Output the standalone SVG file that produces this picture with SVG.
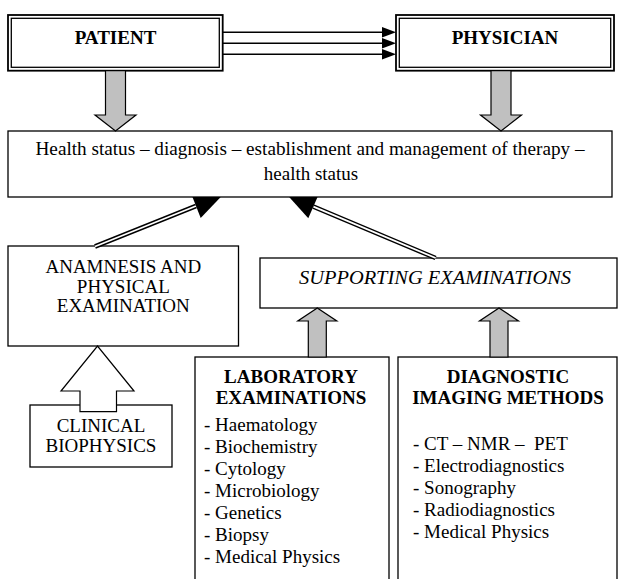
<svg xmlns="http://www.w3.org/2000/svg" width="621" height="579" viewBox="0 0 621 579">
<defs>
<style>
text{font-family:"Liberation Serif","Times New Roman",serif;font-size:19px;fill:#000}
.b{font-weight:bold}
.c{text-anchor:middle}
.i{font-style:italic}
.box{fill:#fff;stroke:#000;stroke-width:1.3}
.outer{fill:#fff;stroke:#000;stroke-width:1.8}
.inner{fill:none;stroke:#000;stroke-width:1.3}
.gray{fill:#c0c0c0;stroke:#000;stroke-width:1.2}
.hollow{fill:#fff;stroke:#000;stroke-width:1.2}
.ln{stroke:#000;stroke-width:1.4;fill:none}
.dblo{stroke:#000;stroke-width:4.6;fill:none}
.dbli{stroke:#fff;stroke-width:1.8;fill:none}
.head{fill:#000}
</style>
<clipPath id="below">
<rect x="0" y="197" width="621" height="382"/>
</clipPath>
</defs>
<rect width="621" height="579" fill="#fff"/>

<g id="patient">
<rect class="outer" x="8" y="15" width="214.7" height="55.7"/>
<rect class="inner" x="11.3" y="18.3" width="208" height="49"/>
<text class="b c" x="115.5" y="44">PATIENT</text>
</g>

<g id="physician">
<rect class="outer" x="396" y="15" width="218" height="55.7"/>
<rect class="inner" x="399.3" y="18.3" width="211.4" height="49"/>
<text class="b c" x="505" y="44">PHYSICIAN</text>
</g>

<g id="health">
<rect class="box" x="8" y="131" width="604" height="66"/>
<text class="c" x="310" y="155" textLength="549" lengthAdjust="spacingAndGlyphs">Health status – diagnosis – establishment and management of therapy –</text>
<text class="c" x="311" y="180">health status</text>
</g>

<g id="anamnesis">
<rect class="box" x="8" y="246" width="230.5" height="100"/>
<text class="c" x="123.3" y="273.3">ANAMNESIS AND</text>
<text class="c" x="123.3" y="293">PHYSICAL</text>
<text class="c" x="123.3" y="312">EXAMINATION</text>
</g>

<g id="supporting">
<rect class="box" x="260" y="258" width="357" height="50"/>
<text class="c i" x="435" y="284" textLength="272" lengthAdjust="spacingAndGlyphs">SUPPORTING EXAMINATIONS</text>
</g>

<g id="laboratory">
<rect class="box" x="195" y="357" width="194" height="240"/>
<text class="b c" x="291" y="383.3">LABORATORY</text>
<text class="b c" x="291" y="403.5">EXAMINATIONS</text>
<text x="204" y="431">- Haematology</text>
<text x="204" y="453">- Biochemistry</text>
<text x="204" y="475">- Cytology</text>
<text x="204" y="497">- Microbiology</text>
<text x="204" y="519">- Genetics</text>
<text x="204" y="541">- Biopsy</text>
<text x="204" y="563">- Medical Physics</text>
</g>

<g id="imaging">
<rect class="box" x="398" y="357" width="219" height="240"/>
<text class="b c" x="508" y="383.3">DIAGNOSTIC</text>
<text class="b c" x="508" y="404.3">IMAGING METHODS</text>
<text x="413" y="450" xml:space="preserve">- CT – NMR –  PET</text>
<text x="413" y="472">- Electrodiagnostics</text>
<text x="413" y="494">- Sonography</text>
<text x="413" y="516">- Radiodiagnostics</text>
<text x="413" y="538">- Medical Physics</text>
</g>

<g id="clinical">
<rect class="box" x="30" y="405" width="142" height="62"/>
<text class="c" x="101" y="431.7">CLINICAL</text>
<text class="c" x="101" y="452.3">BIOPHYSICS</text>
</g>

<g id="connectors">
<path class="ln" d="M222.7 32.3H383M222.7 43.3H383M222.7 54.3H383"/>
<polygon class="head" points="382,27 396,32.3 382,37.6"/>
<polygon class="head" points="382,38 396,43.3 382,48.6"/>
<polygon class="head" points="382,49 396,54.3 382,59.6"/>

<polygon class="gray" points="105.5,70.7 125.5,70.7 125.5,115 136,115 115.5,131 95,115 105.5,115"/>
<polygon class="gray" points="491,70.7 511,70.7 511,115 521.5,115 501,131 480.5,115 491,115"/>

<g clip-path="url(#below)">
<path class="dblo" d="M95 246.5L196 206"/>
<path class="dbli" d="M95 246.5L196 206"/>
<polygon class="head" points="222,195.7 200.7,217.9 191.3,194.1"/>
<path class="dblo" d="M435.6 258L313.4 206.6"/>
<path class="dbli" d="M435.6 258L313.4 206.6"/>
<polygon class="head" points="287.7,195.4 308.3,218.3 318.5,194.9"/>
</g>

<polygon class="gray" points="308.3,357 326.3,357 326.3,321 336.8,321 317.3,308 297.8,321 308.3,321"/>
<polygon class="gray" points="490,357 508,357 508,321 518.5,321 499,308 479.5,321 490,321"/>

<polygon class="hollow" points="80,411.7 116.5,411.7 116.5,391 134,391 97.5,346 61,391 80,391"/>
</g>
</svg>
